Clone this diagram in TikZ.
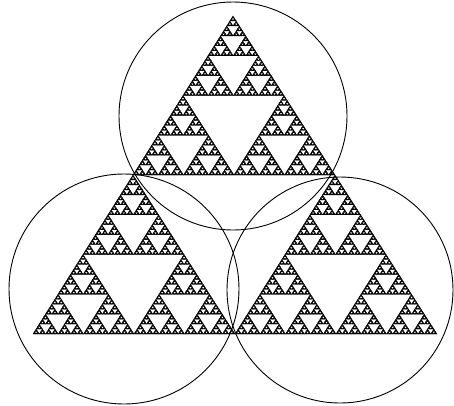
\documentclass[tikz,border=0pt]{standalone}
\usepackage{tikz}

% one level of the gasket: depth, x, y, size (integer grid, 256 = full side)
\newcommand\gasket[4]{%
  \ifnum#1=0
    \filldraw[line width=0.35pt] (#2,#3) -- ++(#4,0) -- ++(-\numexpr#4/2\relax,#4) -- cycle;
  \else
    \begingroup
    \edef\next{%
      \noexpand\gasket{\the\numexpr#1-1\relax}{#2}{#3}{\the\numexpr#4/2\relax}%
      \noexpand\gasket{\the\numexpr#1-1\relax}{\the\numexpr#2+#4/2\relax}{#3}{\the\numexpr#4/2\relax}%
      \noexpand\gasket{\the\numexpr#1-1\relax}{\the\numexpr#2+#4/4\relax}{\the\numexpr#3+#4/2\relax}{\the\numexpr#4/2\relax}}%
    \next
    \endgroup
  \fi}

\begin{document}
\begin{tikzpicture}[
    x=1pt, y=-1pt,
    ring/.style={draw, line width=0.9pt},
]
    \useasboundingbox (0,0) rectangle (454,405);
    \fill[white] (0,0) rectangle (454,405);

    % Sierpinski triangle
    \begin{scope}[shift={(33,334)}, x={(1.578125pt,0pt)}, y={(-0.0078125pt,1.2421875pt)}]
        \gasket{7}{0}{0}{256}
    \end{scope}

    % circle centres
    \coordinate (top) at (233,116);
    \coordinate (left) at (124,289);
    \coordinate (right) at (340,290);

    % circles
    \draw[ring] (top) circle[radius=114pt];
    \draw[ring] (left) circle[radius=115pt];
    \draw[ring] (right) circle[radius=113pt];
\end{tikzpicture}
\end{document}
